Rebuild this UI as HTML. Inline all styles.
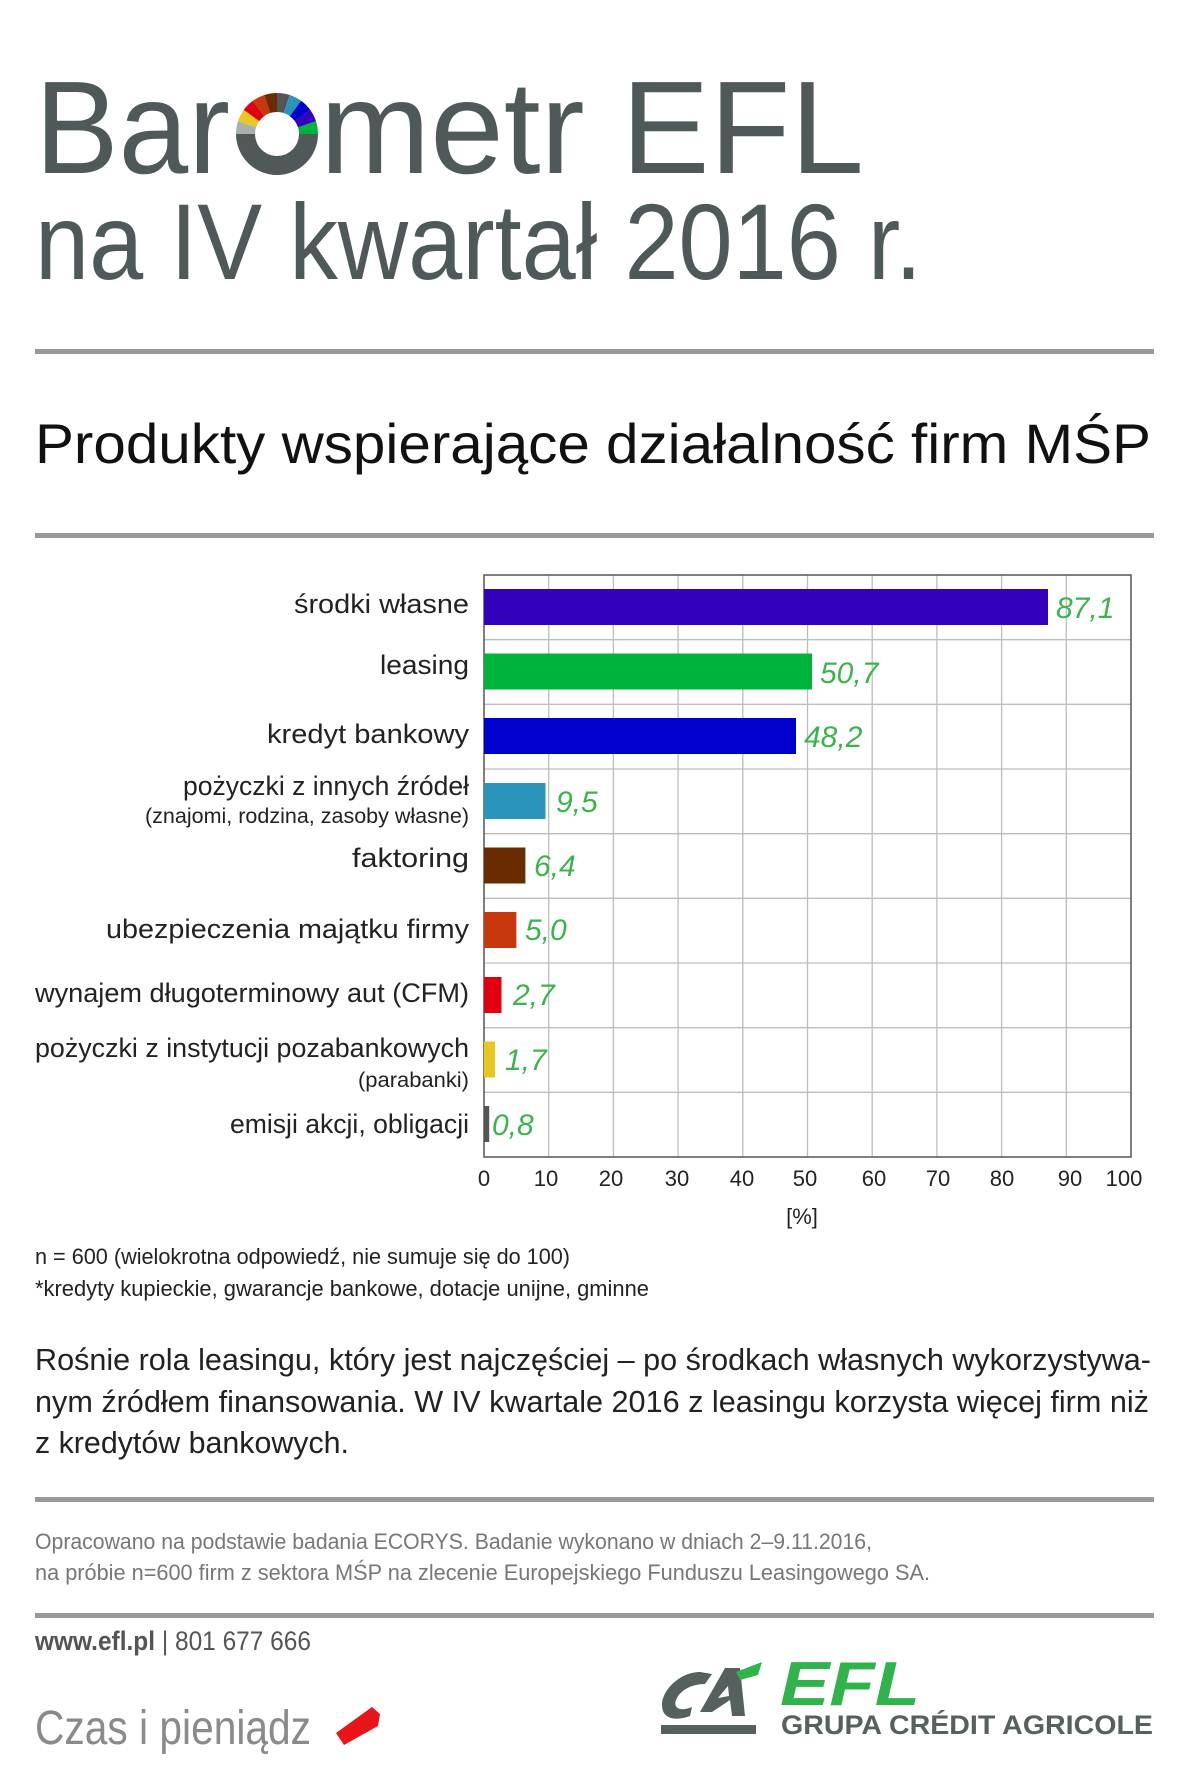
<!DOCTYPE html>
<html><head><meta charset="utf-8"><style>
html,body{margin:0;padding:0;background:#fff;}
svg{display:block;}
text{font-family:"Liberation Sans","DejaVu Sans",sans-serif;}
</style></head><body>
<svg width="1179" height="1792" viewBox="0 0 1179 1792" xmlns="http://www.w3.org/2000/svg">
<rect width="1179" height="1792" fill="#fff"/>
<!-- Title -->
<g fill="#4f5959">
<text x="35" y="173" font-size="132" textLength="195" lengthAdjust="spacingAndGlyphs">Bar</text>
<text x="320" y="173" font-size="132" textLength="544" lengthAdjust="spacingAndGlyphs">metr EFL</text>
<text x="35" y="279" font-size="108" textLength="887" lengthAdjust="spacingAndGlyphs">na IV kwartał 2016 r.</text>
</g>
<!-- donut o -->
<g transform="translate(277,134)">
<path d="M-41,0 A41,41 0 0 0 41,0 L22,0 A22,22 0 0 1 -22,0 Z" fill="#4f5959"/>
<path d="M-41,0 A41,41 0 0 1 -39,-12.7 L-21,-6.8 A22,22 0 0 0 -22,0Z" fill="#a8b0b0"/>
<path d="M-39,-12.7 A41,41 0 0 1 -33.2,-24.1 L-17.8,-12.9 A22,22 0 0 0 -21,-6.8Z" fill="#e8c820"/>
<path d="M-33.2,-24.1 A41,41 0 0 1 -24.1,-33.2 L-12.9,-17.8 A22,22 0 0 0 -17.8,-12.9Z" fill="#e00010"/>
<path d="M-24.1,-33.2 A41,41 0 0 1 -12.7,-39 L-6.8,-21 A22,22 0 0 0 -12.9,-17.8Z" fill="#c8380e"/>
<path d="M-12.7,-39 A41,41 0 0 1 0,-41 L0,-22 A22,22 0 0 0 -6.8,-21Z" fill="#6b2b00"/>
<path d="M0,-41 A41,41 0 0 1 12.7,-39 L6.8,-21 A22,22 0 0 0 0,-22Z" fill="#555"/>
<path d="M12.7,-39 A41,41 0 0 1 24.1,-33.2 L12.9,-17.8 A22,22 0 0 0 6.8,-21Z" fill="#2a95bb"/>
<path d="M24.1,-33.2 A41,41 0 0 1 33.2,-24.1 L17.8,-12.9 A22,22 0 0 0 12.9,-17.8Z" fill="#0000cc"/>
<path d="M33.2,-24.1 A41,41 0 0 1 39,-12.7 L21,-6.8 A22,22 0 0 0 17.8,-12.9Z" fill="#3300bb"/>
<path d="M39,-12.7 A41,41 0 0 1 41,0 L22,0 A22,22 0 0 0 21,-6.8Z" fill="#00b33c"/>
</g>
<rect x="35" y="349" width="1119" height="5" fill="#999"/>
<text x="35" y="463" font-size="56" fill="#111" textLength="1116" lengthAdjust="spacingAndGlyphs">Produkty wspierające działalność firm MŚP</text>
<rect x="35" y="533" width="1119" height="5" fill="#999"/>

<!-- chart grid -->
<g stroke="#bdbdbd" stroke-width="1.3">
<line x1="548.7" y1="575" x2="548.7" y2="1157"/><line x1="613.4" y1="575" x2="613.4" y2="1157"/>
<line x1="678.1" y1="575" x2="678.1" y2="1157"/><line x1="742.8" y1="575" x2="742.8" y2="1157"/>
<line x1="807.5" y1="575" x2="807.5" y2="1157"/><line x1="872.2" y1="575" x2="872.2" y2="1157"/>
<line x1="936.9" y1="575" x2="936.9" y2="1157"/><line x1="1001.6" y1="575" x2="1001.6" y2="1157"/>
<line x1="1066.3" y1="575" x2="1066.3" y2="1157"/>
<line x1="484" y1="639.7" x2="1131" y2="639.7"/><line x1="484" y1="704.3" x2="1131" y2="704.3"/>
<line x1="484" y1="769" x2="1131" y2="769"/><line x1="484" y1="833.7" x2="1131" y2="833.7"/>
<line x1="484" y1="898.3" x2="1131" y2="898.3"/><line x1="484" y1="963" x2="1131" y2="963"/>
<line x1="484" y1="1027.7" x2="1131" y2="1027.7"/><line x1="484" y1="1092.3" x2="1131" y2="1092.3"/>
</g>
<rect x="484" y="575" width="647" height="582" fill="none" stroke="#555" stroke-width="1.5"/>
<!-- bars -->
<rect x="484" y="589" width="564" height="36" fill="#3300bb"/>
<rect x="484" y="653.5" width="328" height="36" fill="#00b33c"/>
<rect x="484" y="718" width="312" height="36" fill="#0000cc"/>
<rect x="484" y="783" width="61.5" height="36" fill="#2a95bb"/>
<rect x="484" y="847.5" width="41.4" height="36" fill="#6b2b00"/>
<rect x="484" y="912" width="32.4" height="36" fill="#c8380e"/>
<rect x="484" y="977" width="17.5" height="36" fill="#e00010"/>
<rect x="484" y="1041.5" width="11" height="36" fill="#e8c820"/>
<rect x="484" y="1106" width="5.2" height="36" fill="#555"/>
<!-- values -->
<g fill="#3cb44b" font-size="30" font-style="italic" font-family="Liberation Serif, serif">
<text x="1056" y="618">87,1</text><text x="820" y="683">50,7</text><text x="804" y="747">48,2</text>
<text x="556" y="812">9,5</text><text x="534" y="876">6,4</text><text x="525" y="940">5,0</text>
<text x="513" y="1005">2,7</text><text x="505" y="1070">1,7</text><text x="492" y="1135">0,8</text>
</g>
<!-- labels -->
<g fill="#222" font-size="27" text-anchor="end">
<text x="469" y="613" textLength="175" lengthAdjust="spacingAndGlyphs">środki własne</text>
<text x="469" y="674" textLength="89" lengthAdjust="spacingAndGlyphs">leasing</text>
<text x="469" y="743" textLength="202" lengthAdjust="spacingAndGlyphs">kredyt bankowy</text>
<text x="469" y="795" textLength="286" lengthAdjust="spacingAndGlyphs">pożyczki z innych źródeł</text>
<text x="469" y="823" font-size="21" textLength="324" lengthAdjust="spacingAndGlyphs">(znajomi, rodzina, zasoby własne)</text>
<text x="469" y="867" textLength="117" lengthAdjust="spacingAndGlyphs">faktoring</text>
<text x="469" y="938" textLength="363" lengthAdjust="spacingAndGlyphs">ubezpieczenia majątku firmy</text>
<text x="469" y="1002" textLength="434" lengthAdjust="spacingAndGlyphs">wynajem długoterminowy aut (CFM)</text>
<text x="469" y="1057" textLength="434" lengthAdjust="spacingAndGlyphs">pożyczki z instytucji pozabankowych</text>
<text x="469" y="1087" font-size="21" textLength="111" lengthAdjust="spacingAndGlyphs">(parabanki)</text>
<text x="469" y="1133" textLength="239" lengthAdjust="spacingAndGlyphs">emisji akcji, obligacji</text>
</g>
<g fill="#222" font-size="22" text-anchor="middle">
<text x="484" y="1186">0</text><text x="546" y="1186">10</text><text x="611" y="1186">20</text>
<text x="677" y="1186">30</text><text x="742" y="1186">40</text><text x="805" y="1186">50</text>
<text x="874" y="1186">60</text><text x="938" y="1186">70</text><text x="1002" y="1186">80</text>
<text x="1070" y="1186">90</text><text x="1124" y="1186">100</text>
<text x="802" y="1224">[%]</text>
</g>
<g fill="#222" font-size="22">
<text x="35" y="1264" textLength="535" lengthAdjust="spacingAndGlyphs">n = 600 (wielokrotna odpowiedź, nie sumuje się do 100)</text>
<text x="35" y="1296" textLength="614" lengthAdjust="spacingAndGlyphs">*kredyty kupieckie, gwarancje bankowe, dotacje unijne, gminne</text>
</g>
<g fill="#222" font-size="31">
<text x="35" y="1370" textLength="1116" lengthAdjust="spacingAndGlyphs">Rośnie rola leasingu, który jest najczęściej – po środkach własnych wykorzystywa-</text>
<text x="35" y="1412" textLength="1114" lengthAdjust="spacingAndGlyphs">nym źródłem finansowania. W IV kwartale 2016 z leasingu korzysta więcej firm niż</text>
<text x="35" y="1453" textLength="314" lengthAdjust="spacingAndGlyphs">z kredytów bankowych.</text>
</g>
<rect x="35" y="1497" width="1119" height="5" fill="#999"/>
<g fill="#777" font-size="22">
<text x="35" y="1549" textLength="837" lengthAdjust="spacingAndGlyphs">Opracowano na podstawie badania ECORYS. Badanie wykonano w dniach 2–9.11.2016,</text>
<text x="35" y="1580" textLength="895" lengthAdjust="spacingAndGlyphs">na próbie n=600 firm z sektora MŚP na zlecenie Europejskiego Funduszu Leasingowego SA.</text>
</g>
<rect x="35" y="1613" width="1119" height="5" fill="#999"/>
<text x="35" y="1650" font-size="27" fill="#555" textLength="276" lengthAdjust="spacingAndGlyphs"><tspan font-weight="bold">www.efl.pl</tspan> | 801 677 666</text>
<text x="35" y="1744" font-size="48" fill="#8a8a8a" font-weight="normal" textLength="276" lengthAdjust="spacingAndGlyphs">Czas i pieniądz</text>
<path d="M336,1733 L372,1707 L380,1714 L378,1726 L344,1745 Z" fill="#e8141a"/>
<!-- logo -->
<g fill="#56605f">
<path d="M700,1672 C680,1672 662,1690 662,1705 C662,1718 674,1722 690,1716 L692,1707 C680,1712 673,1708 676,1700 C680,1690 692,1684 705,1684 L712,1674 Z"/>
<path d="M725,1668 L740,1668 L745,1716 L732,1716 L730,1700 L712,1712 L700,1712 Z M728,1686 L718,1698 L729,1696 Z"/>
<path d="M736,1672 L762,1662 L758,1675 L740,1680 Z" fill="#2fb34a"/>
<rect x="661" y="1725" width="95" height="9"/>
</g>
<text x="780" y="1705" font-size="62" font-weight="bold" font-style="italic" fill="#2fb34a" textLength="140" lengthAdjust="spacingAndGlyphs">EFL</text>
<text x="781" y="1734" font-size="27" font-weight="bold" fill="#56605f" textLength="372" lengthAdjust="spacingAndGlyphs">GRUPA CRÉDIT AGRICOLE</text>
</svg>
</body></html>
